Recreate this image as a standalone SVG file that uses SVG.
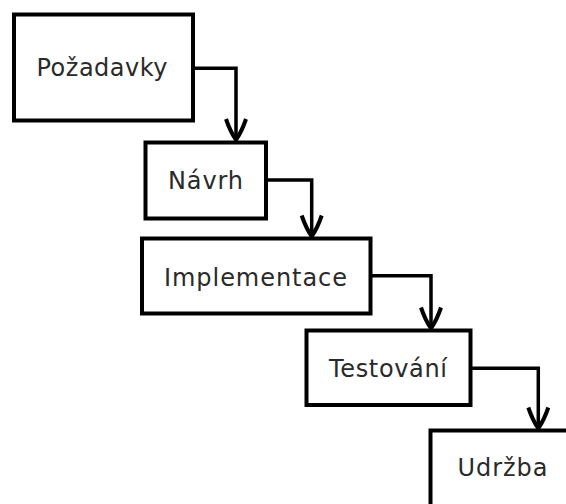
<svg xmlns="http://www.w3.org/2000/svg" width="566" height="504" viewBox="0 0 566 504">
  <style>
    .box { fill: #ffffff; stroke: #000000; stroke-width: 4; }
    .label { font-family: "DejaVu Sans", sans-serif; font-size: 24px; fill: #2a2a2a; text-anchor: middle; }
    .flow { fill: none; stroke: #000000; stroke-width: 3.5; stroke-linejoin: miter; }
  </style>
  <defs>
    <!-- open "V" head used at the end of every step connector -->
    <marker id="arrow" markerUnits="userSpaceOnUse" viewBox="-25 -14 28 28" markerWidth="28" markerHeight="28" refX="0" refY="0" orient="auto">
      <path d="M-21,-10 Q-9,-6 0,0 Q-9,6 -21,10" fill="none" stroke="#000000" stroke-width="4" stroke-linejoin="round" stroke-linecap="butt"/>
    </marker>
  </defs>
  <rect width="566" height="504" fill="#ffffff"/>

  <g id="connectors">
    <path class="flow" d="M193,68.3 H236 V140" marker-end="url(#arrow)"/>
    <path class="flow" d="M266,180 H311.7 V236.5" marker-end="url(#arrow)"/>
    <path class="flow" d="M370.7,275.7 H431 V328.5" marker-end="url(#arrow)"/>
    <path class="flow" d="M470.7,368.3 H538.3 V428.5" marker-end="url(#arrow)"/>
  </g>

  <g id="pozadavky">
    <rect class="box" x="14" y="14.5" width="179" height="106"/>
    <text class="label" x="102" y="76" textLength="131" lengthAdjust="spacing">Požadavky</text>
  </g>
  <g id="navrh">
    <rect class="box" x="145.5" y="142.5" width="120.5" height="76"/>
    <text class="label" x="205.5" y="188.5" textLength="75" lengthAdjust="spacing">Návrh</text>
  </g>
  <g id="implementace">
    <rect class="box" x="142" y="238.5" width="228.5" height="75"/>
    <text class="label" x="255.5" y="285.5" textLength="183" lengthAdjust="spacing">Implementace</text>
  </g>
  <g id="testovani">
    <rect class="box" x="306.5" y="330.5" width="164" height="74.5"/>
    <text class="label" x="388" y="377" textLength="118" lengthAdjust="spacing">Testování</text>
  </g>
  <g id="udrzba">
    <rect class="box" x="430.5" y="430.5" width="200" height="120"/>
    <text class="label" x="502.5" y="476" textLength="90" lengthAdjust="spacing">Udržba</text>
  </g>
</svg>
